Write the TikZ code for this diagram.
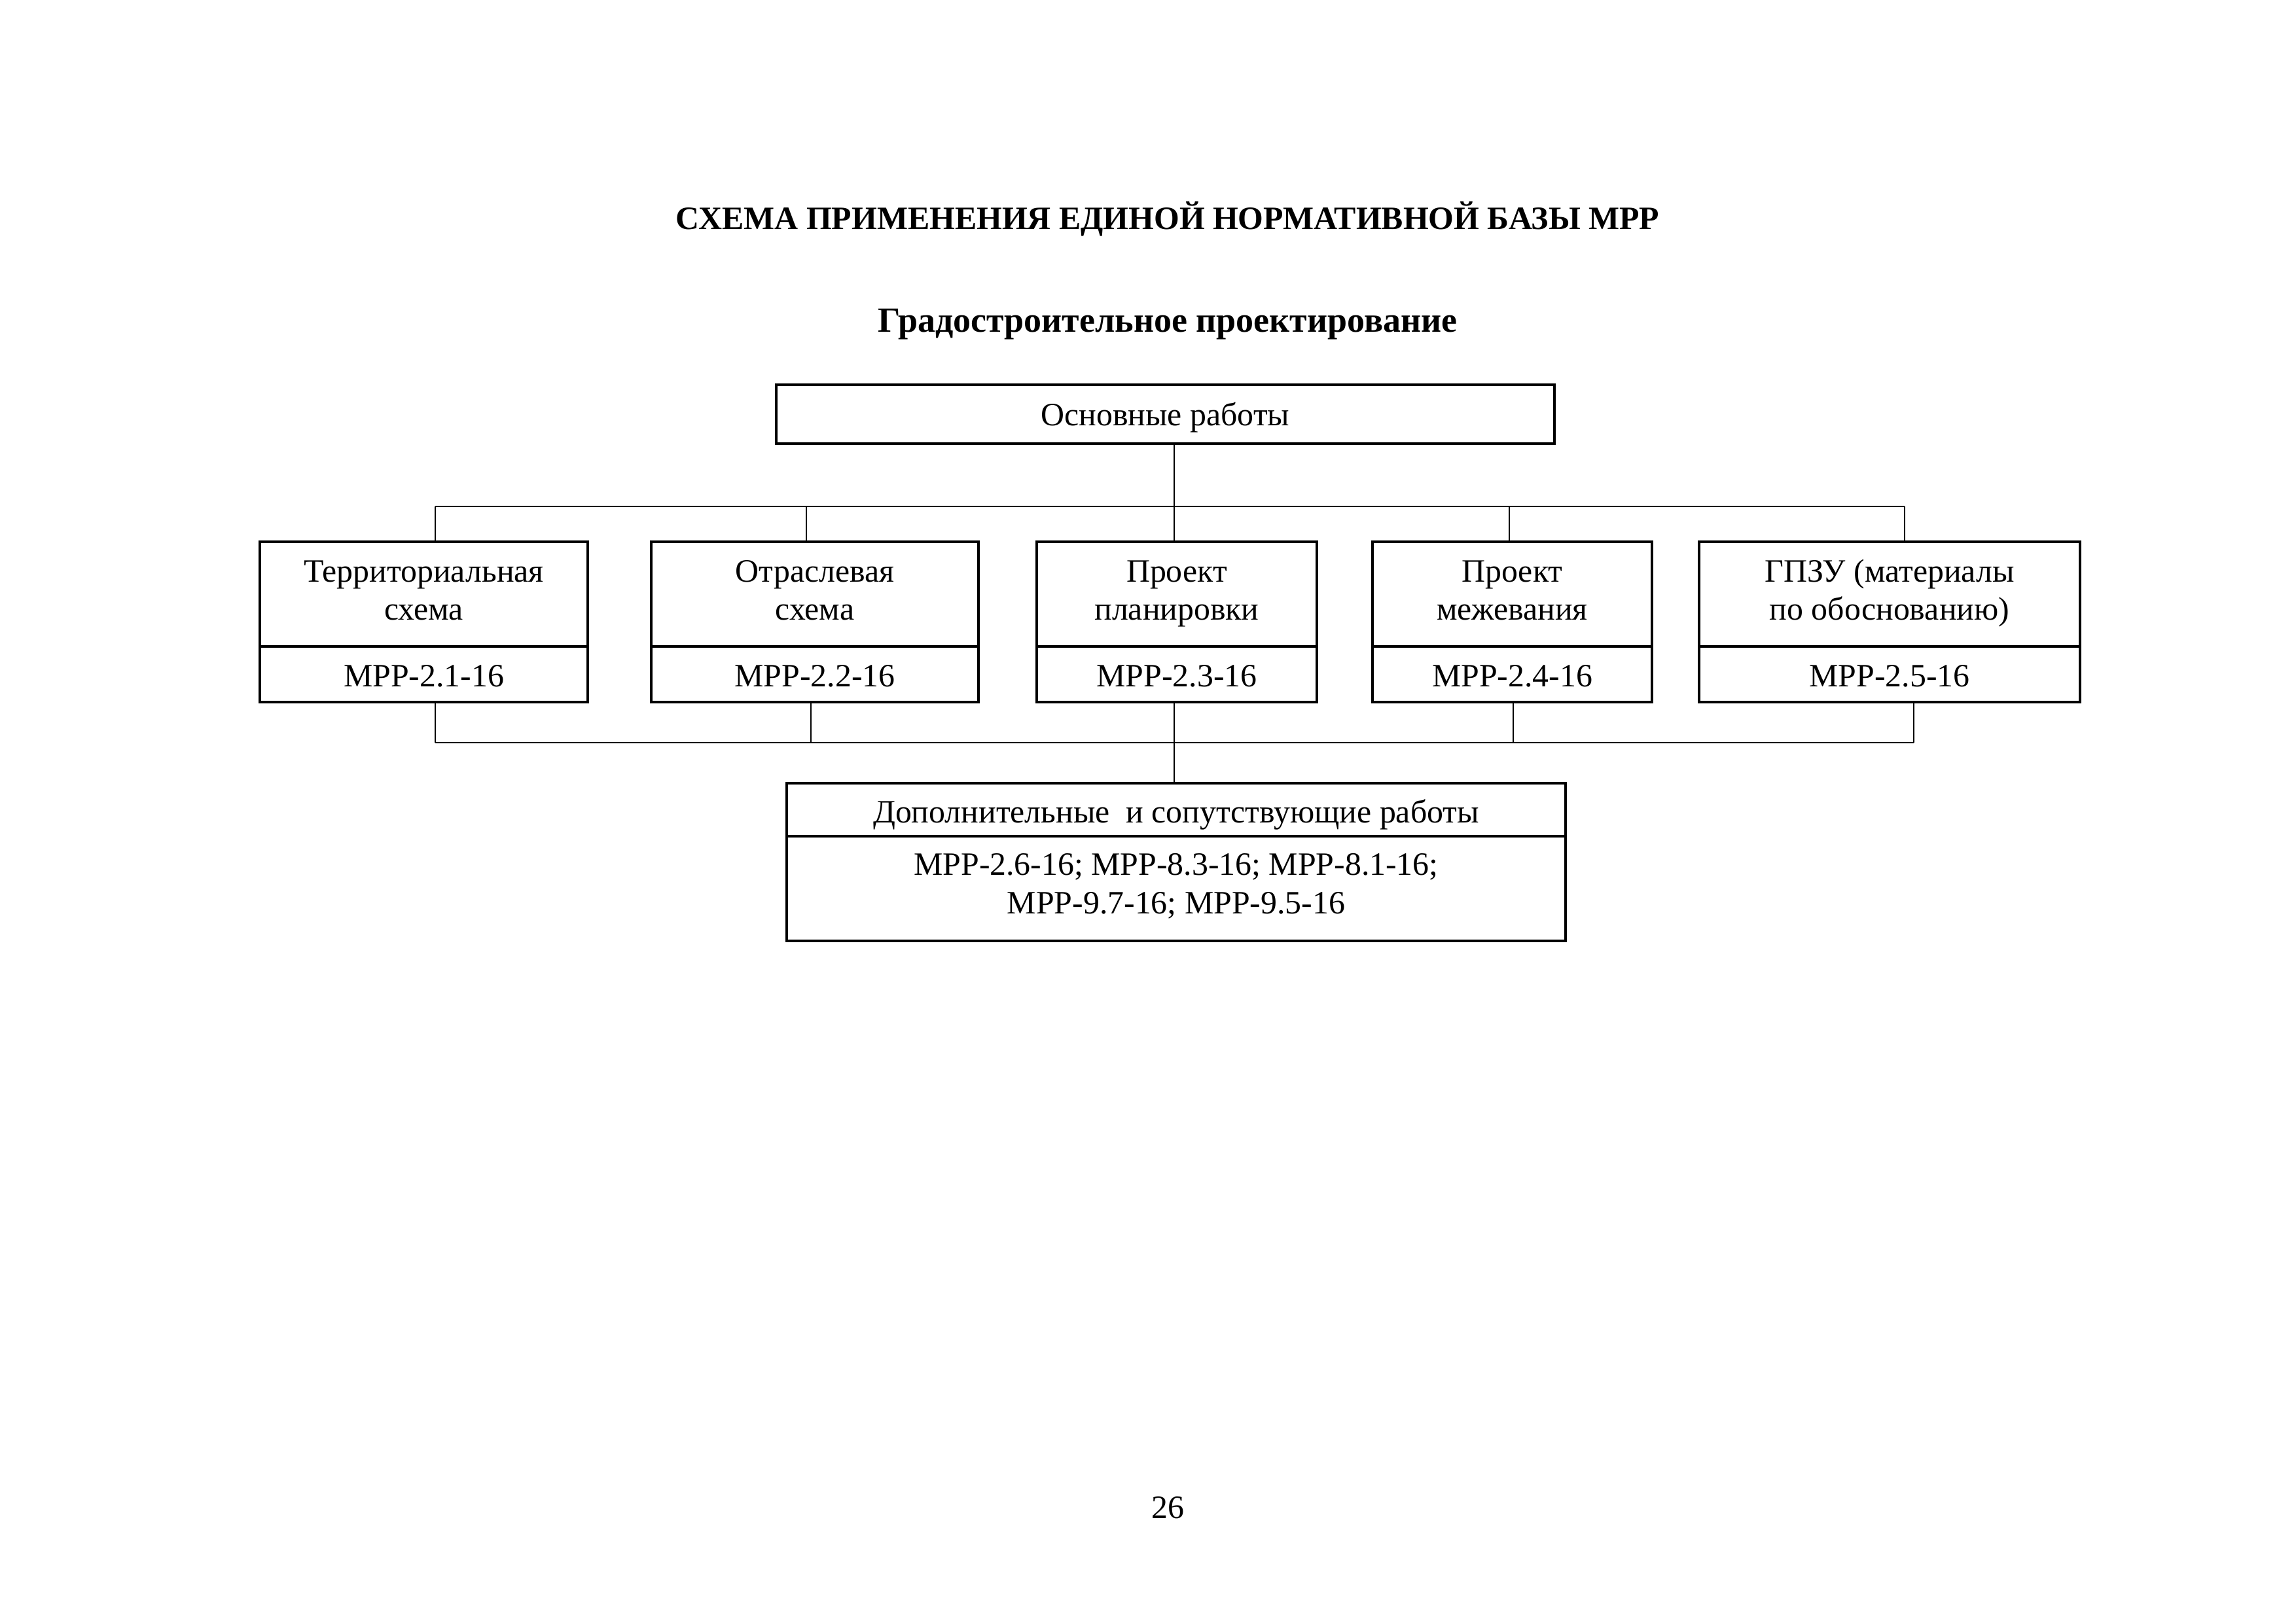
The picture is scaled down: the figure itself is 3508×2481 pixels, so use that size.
\documentclass[tikz,border=0pt]{standalone}
\usepackage{fontspec}
\setmainfont{Liberation Serif}
\begin{document}
\begin{tikzpicture}[x=0.24bp,y=-0.24bp,
  every node/.style={inner sep=0pt, outer sep=0pt},
  box/.style={draw, line width=0.75pt, align=center,
    font=\fontsize{12}{14}\selectfont},
  one/.style={text height=8.2pt, text depth=0pt},
  code/.style={text height=9.2pt, text depth=0pt},
  two/.style={text height=19.2pt, text depth=0pt},
  bus/.style={line width=0.65pt},
  conn/.style={line width=0.4pt},
  ttl/.style={font=\fontsize{12}{15}\selectfont\bfseries, anchor=base},
  sttl/.style={font=\fontsize{13}{15}\selectfont\bfseries, anchor=base}]
\path[use as bounding box] (0,0) rectangle (3508,2481);
\fill[white] (0,0) rectangle (3508,2481);

\node[ttl] (title) at (1784,350) {СХЕМА ПРИМЕНЕНИЯ ЕДИНОЙ НОРМАТИВНОЙ БАЗЫ МРР};
\node[sttl] (sub) at (1784,507) {Градостроительное проектирование};

\node[box, one, minimum width={1189*0.24bp}, minimum height={90*0.24bp}] (osn) at (1780.5,633) {Основные работы};

\node[box, two, minimum width={501*0.24bp}, minimum height={160*0.24bp}] (t1) at (647.5,908) {Территориальная\\схема};
\node[box, code, minimum width={501*0.24bp}, minimum height={85*0.24bp}] (m1) at (647.5,1030.5) {МРР-2.1-16};
\node[box, two, minimum width={500*0.24bp}, minimum height={160*0.24bp}] (t2) at (1245,908) {Отраслевая\\схема};
\node[box, code, minimum width={500*0.24bp}, minimum height={85*0.24bp}] (m2) at (1245,1030.5) {МРР-2.2-16};
\node[box, two, minimum width={428*0.24bp}, minimum height={160*0.24bp}] (t3) at (1798,908) {Проект\\планировки};
\node[box, code, minimum width={428*0.24bp}, minimum height={85*0.24bp}] (m3) at (1798,1030.5) {МРР-2.3-16};
\node[box, two, minimum width={427*0.24bp}, minimum height={160*0.24bp}] (t4) at (2310.5,908) {Проект\\межевания};
\node[box, code, minimum width={427*0.24bp}, minimum height={85*0.24bp}] (m4) at (2310.5,1030.5) {МРР-2.4-16};
\node[box, two, minimum width={582*0.24bp}, minimum height={160*0.24bp}] (t5) at (2887,908) {ГПЗУ (материалы\\по обоснованию)};
\node[box, code, minimum width={582*0.24bp}, minimum height={85*0.24bp}] (m5) at (2887,1030.5) {МРР-2.5-16};

\node[box, text height=9.4pt, text depth=0pt, minimum width={1190*0.24bp}, minimum height={81*0.24bp}] (add) at (1797,1237.5) {Дополнительные~ и сопутствующие работы};
\node[box, font=\fontsize{12}{14.2}\selectfont, text height=18.72pt, text depth=0pt, minimum width={1190*0.24bp}, minimum height={160*0.24bp}] (addm) at (1797,1358) {МРР-2.6-16; МРР-8.3-16; МРР-8.1-16;\\МРР-9.7-16; МРР-9.5-16};

\node[font=\fontsize{12}{14}\selectfont, anchor=base] (page) at (1784,2320) {26};

% top bus
\coordinate (u1) at (665,774);
\coordinate (u2) at (1232,774);
\coordinate (u3) at (1794,774);
\coordinate (u4) at (2306,774);
\coordinate (u5) at (2910,774);
\draw[conn] (osn.south -| u3) -- (u3);
\draw[bus] (u1) -- (u5);
\draw[conn] (u1) -- (u1 |- t1.north);
\draw[conn] (u2) -- (u2 |- t2.north);
\draw[conn] (u3) -- (u3 |- t3.north);
\draw[conn] (u4) -- (u4 |- t4.north);
\draw[conn] (u5) -- (u5 |- t5.north);

% bottom bus
\coordinate (d1) at (665,1135);
\coordinate (d2) at (1239,1135);
\coordinate (d3) at (1794,1135);
\coordinate (d4) at (2312,1135);
\coordinate (d5) at (2924,1135);
\draw[bus] (d1) -- (d5);
\draw[conn] (m1.south -| d1) -- (d1);
\draw[conn] (m2.south -| d2) -- (d2);
\draw[conn] (m3.south -| d3) -- (d3);
\draw[conn] (m4.south -| d4) -- (d4);
\draw[conn] (m5.south -| d5) -- (d5);
\draw[conn] (d3) -- (d3 |- add.north);
\end{tikzpicture}
\end{document}
